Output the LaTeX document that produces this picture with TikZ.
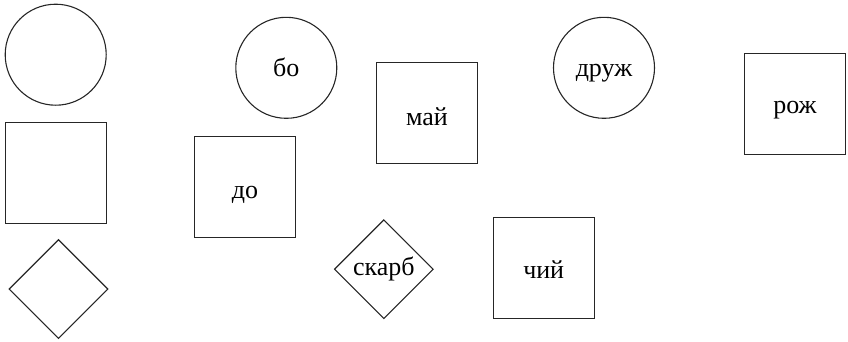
\documentclass[tikz,border=0pt]{standalone}
\usepackage{fontspec}
\setmainfont{Liberation Serif}
\newfontfamily\labelfont{Liberation Serif}
\usetikzlibrary{shapes.geometric}
\newcommand{\lowered}[2]{\raisebox{-#1pt}{#2}}
\begin{document}
\begin{tikzpicture}[x=1pt,y=-1pt,
  shapeline/.style={draw=black!85,line width=1.1pt,inner sep=0pt,
    font=\labelfont\fontsize{26}{30}\selectfont,text height=0pt,text depth=0pt},
  circ/.style={shapeline,circle,minimum size=101pt},
  sq/.style={shapeline,rectangle,minimum size=101pt},
  dia/.style={shapeline,diamond,minimum size=99pt}]
\useasboundingbox (0,0) rectangle (848,341);
\node[circ] (c1) at (55.7,54.7) {};
\node[sq] (s1) at (55.7,173.2) {};
\node[dia] (d1) at (58.5,289) {};
\node[circ] (bo) at (286.3,67.8) {\lowered{8.5}{бо}};
\node[sq] (do) at (245,186.8) {\lowered{11.2}{до}};
\node[sq] (mai) at (427,113.2) {\lowered{12}{май}};
\node[dia] (skarb) at (383.8,269.2) {\makebox[0pt]{\lowered{6}{скарб}}};
\node[circ] (druzh) at (604,67.8) {\lowered{8.5}{друж}};
\node[sq] (chyi) at (543.7,268.3) {\lowered{10.3}{чий}};
\node[sq] (rozh) at (795,103.8) {\lowered{9.8}{рож}};
\end{tikzpicture}
\end{document}
